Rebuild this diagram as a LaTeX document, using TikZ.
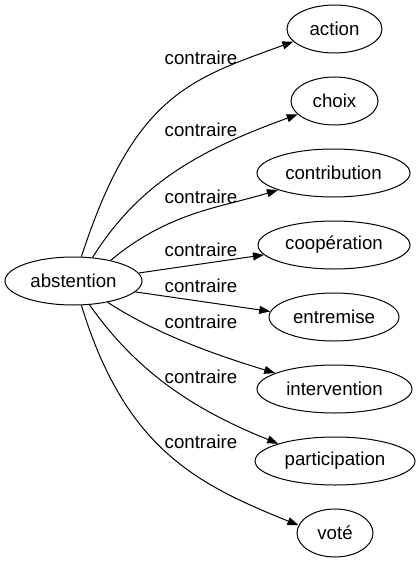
\documentclass[tikz,border=0pt]{standalone}
\usepackage{fontspec}
\setmainfont{Liberation Sans}
\usetikzlibrary{shapes.geometric,arrows.meta}
\begin{document}
\begin{tikzpicture}[x=0.75pt,y=0.75pt,line width=0.75pt,
  ell/.style={draw,ellipse,inner sep=0pt,minimum height=36pt,font=\fontsize{14pt}{16pt}\selectfont},
  lbl/.style={inner sep=0pt,font=\fontsize{14pt}{16pt}\selectfont},
  edge/.style={-{Triangle[length=8.25pt,width=6pt]}}]
\useasboundingbox (0,0) rectangle (420,-563);
\node[ell,minimum width=102.75pt] (abs) at (73.5,-281) {abstention};
\node[ell,minimum width=71.25pt] (action) at (334.5,-29) {action};
\node[ell,minimum width=65.25pt] (choix) at (334.5,-101) {choix};
\node[ell,minimum width=114.75pt] (contrib) at (333.5,-173) {contribution};
\node[ell,minimum width=114pt] (coop) at (334,-245) {coopération};
\node[ell,minimum width=97.5pt] (entre) at (334,-317) {entremise};
\node[ell,minimum width=116.25pt] (inter) at (334.5,-389) {intervention};
\node[ell,minimum width=120pt] (partic) at (335,-461) {participation};
\node[ell,minimum width=57pt] (vote) at (335,-533) {voté};
\draw[edge] (abs.72) .. controls +(72:170) and +(200:110) .. (action.197);
\draw[edge] (abs.51) .. controls +(58:90) and +(200:100) .. (choix.200);
\draw[edge] (abs.29) .. controls +(40:75) and +(197:60) .. (contrib.197);
\draw[edge] (abs.7) -- (coop.188);
\draw[edge] (abs.350) -- (entre.175);
\draw[edge] (abs.328) .. controls +(-33:60) and +(163:60) .. (inter.165);
\draw[edge] (abs.304) .. controls +(-55:90) and +(158:80) .. (partic.163);
\draw[edge] (abs.288) .. controls +(-73:150) and +(158:110) .. (vote.168);
\node[lbl] (l1) at (201,-58) {contraire};
\node[lbl] (l2) at (201,-130) {contraire};
\node[lbl] (l3) at (201,-197) {contraire};
\node[lbl] (l4) at (201,-250) {contraire};
\node[lbl] (l5) at (201,-286) {contraire};
\node[lbl] (l6) at (201,-322) {contraire};
\node[lbl] (l7) at (201,-377) {contraire};
\node[lbl] (l8) at (201,-442) {contraire};
\end{tikzpicture}
\end{document}
